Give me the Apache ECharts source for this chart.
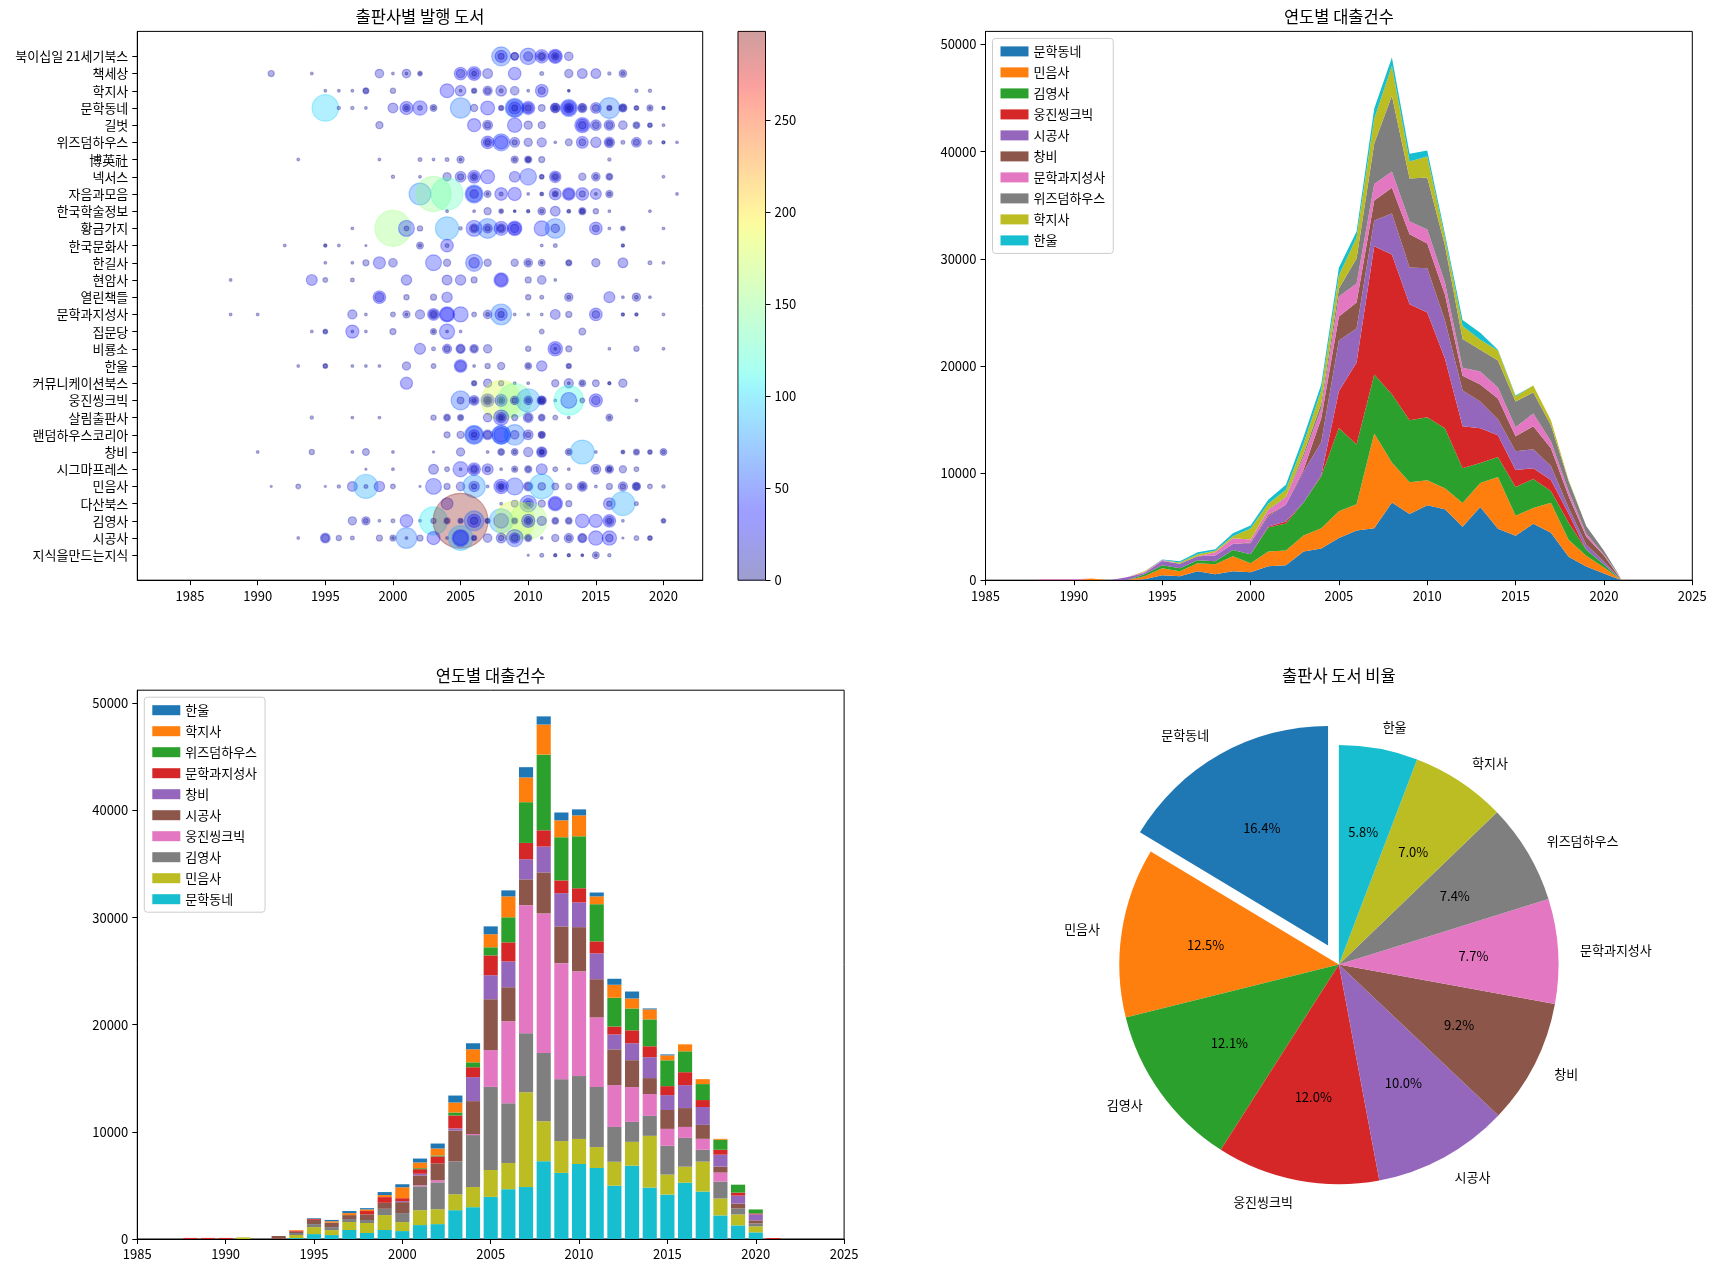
<!DOCTYPE html>
<html><head><meta charset="utf-8">
<script src="https://cdn.jsdelivr.net/npm/echarts@6/dist/echarts.min.js"></script>
<style>html,body{margin:0;padding:0;background:#fff}#c{width:1714px;height:1273px}</style>
</head><body><div id="c"></div>
<script>
// ---------- DATA ----------
const years = [1988,1989,1990,1991,1992,1993,1994,1995,1996,1997,1998,1999,2000,2001,2002,2003,2004,2005,2006,2007,2008,2009,2010,2011,2012,2013,2014,2015,2016,2017,2018,2019,2020,2021];
const axisYears = [1985,1986,1987,1988,1989,1990,1991,1992,1993,1994,1995,1996,1997,1998,1999,2000,2001,2002,2003,2004,2005,2006,2007,2008,2009,2010,2011,2012,2013,2014,2015,2016,2017,2018,2019,2020,2021,2022,2023,2024,2025];

const loan_문학동네 = [0,0,0,0,0,0,90,460,370,840,560,840,740,1300,1390,2690,2970,3930,4650,4850,7260,6170,7000,6630,4980,6840,4800,4150,5260,4430,2200,1270,620,0];
const loan_민음사 = [0,0,0,150,0,0,280,650,460,740,930,1390,840,1390,1390,1490,1880,2510,2440,8850,3730,2970,2340,1950,2230,2230,4830,1860,1490,2790,1580,1020,560,0];
const loan_김영사 = [0,0,0,0,0,0,190,280,280,280,280,590,840,2230,2510,3070,4850,7760,5580,5510,6360,5780,5870,5610,3250,1860,1860,2690,2690,1110,1580,560,280,0];
const loan_웅진씽크빅 = [0,0,0,0,0,0,0,0,0,0,0,0,0,90,190,0,100,3430,7660,11950,13040,10830,9770,6500,3900,3250,2040,1580,1020,1020,840,0,0,0];
const loan_시공사 = [0,0,0,0,0,280,120,400,430,370,530,560,1020,930,1580,2880,3070,4750,3170,2410,3830,3430,4130,3560,3340,2510,1490,1760,1760,1300,560,460,280,0];
const loan_창비 = [0,0,0,0,0,0,0,0,0,0,0,0,90,150,0,190,2240,2240,2410,1880,2410,3100,2310,2410,1390,1580,1950,1390,2140,1670,1110,740,560,0];
const loan_문학과지성사 = [100,100,100,0,0,0,90,90,0,0,310,530,280,430,650,1210,920,1850,1780,1520,1520,1190,1320,1120,740,1210,1020,840,1210,650,460,280,90,90];
const loan_위즈덤하우스 = [0,0,0,0,0,0,0,0,0,0,0,0,0,90,90,280,460,760,2340,3800,7060,4030,4850,3470,2690,2040,2510,2410,1950,1490,930,740,370,0];
const loan_학지사 = [0,0,0,0,0,0,60,0,120,190,150,190,1020,530,650,930,1220,1220,1950,2310,2810,1580,1950,730,1210,930,930,460,650,460,90,0,0,0];
const loan_한울 = [0,0,0,0,0,0,0,60,120,190,120,280,280,370,460,650,560,730,560,960,760,730,560,360,560,650,90,90,0,0,0,0,0,0];

const loanSeries = [
  ['문학동네', loan_문학동네], ['민음사', loan_민음사], ['김영사', loan_김영사], ['웅진씽크빅', loan_웅진씽크빅],
  ['시공사', loan_시공사], ['창비', loan_창비], ['문학과지성사', loan_문학과지성사], ['위즈덤하우스', loan_위즈덤하우스],
  ['학지사', loan_학지사], ['한울', loan_한울]
];

const pieNames = ['문학동네','민음사','김영사','웅진씽크빅','시공사','창비','문학과지성사','위즈덤하우스','학지사','한울'];
const piePercents = [16.4,12.5,12.1,12.0,10.0,9.2,7.7,7.4,7.0,5.8];

const publishers = ['북이십일 21세기북스','책세상','학지사','문학동네','길벗','위즈덤하우스','博英社','넥서스','자음과모음','한국학술정보','황금가지','한국문화사','한길사','현암사','열린책들','문학과지성사','집문당','비룡소','한울','커뮤니케이션북스','웅진씽크빅','살림출판사','랜덤하우스코리아','창비','시그마프레스','민음사','다산북스','김영사','시공사','지식을만드는지식'];

const xTicksScatter = [1985,1990,1995,2000,2005,2010,2015,2020];
const colorbarTicks = [0,50,100,150,200,250];
const loanTicks = [0,10000,20000,30000,40000,50000];

// bubbles: [publisher, [[year, value, value, ...], ...]]
const bubbleRows = [
 ['북이십일 21세기북스', [[2008,58,29,10],[2009,14,14],[2010,47,19],[2011,34,19,10],[2012,37,29,14,5],[2013,17]]],
 ['책세상', [[1991,10],[1994,3],[1999,17],[2000,3],[2001,17,3],[2002,7,3],[2005,31,17],[2006,35,22,7],[2007,21],[2009,31],[2011,5],[2013,16],[2014,21],[2015,21],[2016,4],[2017,14,5]]],
 ['학지사', [[1995,3],[1996,3],[1997,3],[1998,10,7],[2000,8],[2004,36],[2005,24,3],[2006,8,5],[2007,19,10],[2008,24,5],[2009,17],[2010,3],[2011,31,13],[2013,3,2],[2018,4],[2019,4]]],
 ['문학동네', [[1995,97],[1996,4],[1997,4],[1998,3],[2000,21],[2001,33,14,5],[2002,38,7],[2003,12,5],[2005,65],[2006,13],[2007,36],[2008,8,5],[2009,58,49,29,10],[2010,33,23,10],[2011,12],[2012,21,17,10,5],[2013,49,39,23,14,5],[2014,19,14,7],[2015,24,12],[2016,67,8,5],[2017,16,12,7],[2018,7,5],[2019,10,3],[2020,4,3]]],
 ['길벗', [[1999,13],[2006,33],[2007,21,10],[2009,38],[2010,16],[2011,13],[2014,41,29,14],[2015,24,12],[2016,23,12],[2017,17],[2018,12,7],[2019,7,5],[2020,3]]],
 ['위즈덤하우스', [[2007,31,17,8],[2008,49,34],[2009,21,8],[2010,16],[2011,19],[2012,3],[2013,12],[2014,28,12],[2015,23],[2016,23,14,7],[2017,5],[2018,21,10],[2019,5],[2020,4,3],[2021,3]]],
 ['博英社', [[1993,3],[1999,3],[2002,5],[2003,3],[2004,5],[2005,13,3],[2009,13,5],[2010,13,8,5],[2011,10],[2016,4]]],
 ['넥서스', [[2000,4],[2002,3],[2004,16],[2005,24,10],[2006,31,17,7],[2007,36],[2009,24],[2010,47],[2011,7,5],[2012,27,17,8],[2014,13],[2015,17,7],[2016,12,7],[2020,3]]],
 ['자음과모음', [[2002,72],[2003,150],[2004,130],[2006,54,44,17],[2007,12,3],[2008,31,5],[2009,33],[2010,3],[2011,5,3],[2012,28,10,5],[2013,31,23],[2014,31,10],[2015,25,3],[2016,13,5],[2021,3]]],
 ['한국학술정보', [[2004,3],[2006,3],[2007,13],[2008,7,3],[2009,3,2],[2010,4,3],[2011,14,5],[2012,21],[2013,5,3],[2014,13,8,5],[2015,8],[2016,3],[2019,3]]],
 ['황금가지', [[1997,3],[2000,155],[2001,44,7],[2002,8],[2004,79],[2005,4],[2006,44,19,10],[2007,62,19,8],[2008,36,19,10],[2009,38,31,17],[2011,41],[2012,62,17],[2015,31,12],[2016,3],[2017,7,3],[2020,3]]],
 ['한국문화사', [[1992,3],[1995,4,3],[1996,3],[1998,2],[2002,12,4],[2004,31,5],[2011,3],[2012,5],[2017,4,3]]],
 ['한길사', [[1995,3],[1997,3],[1998,10],[1999,29],[2000,17],[2003,44],[2004,13],[2006,49,23],[2007,13],[2009,13],[2010,17,7],[2011,12,3],[2013,10,7],[2015,16],[2017,21],[2019,5],[2020,3]]],
 ['현암사', [[1988,3],[1994,25],[1995,7],[1997,5],[2001,23],[2004,21],[2005,23],[2006,10],[2008,38,29],[2010,10],[2011,17],[2012,3]]],
 ['열린책들', [[1999,31,19],[2001,8],[2003,10],[2004,23],[2010,8],[2011,5],[2013,16,5],[2016,25],[2017,3],[2018,16,5],[2019,3]]],
 ['문학과지성사', [[1988,3],[1990,3],[1997,19],[1998,3],[2000,7],[2001,13,3],[2002,19],[2003,28,19,10],[2004,41,34],[2005,41],[2006,7],[2007,17,5],[2008,67,29,10],[2009,3],[2010,3],[2011,3],[2012,21],[2013,10],[2015,31,14],[2017,4,3],[2018,4,3],[2020,3]]],
 ['집문당', [[1994,3],[1995,7,5],[1997,33,3],[1998,3],[2000,10],[2003,10,3],[2004,41,3],[2005,3],[2011,7],[2014,12]]],
 ['비룡소', [[2002,25],[2003,5],[2004,19,10],[2005,19,14],[2006,17,10],[2007,16],[2010,8],[2012,38,23,3],[2013,10],[2016,3],[2018,8],[2020,3]]],
 ['한울', [[1993,3],[1995,7,5],[1997,3],[1998,3],[1999,3],[2001,16],[2003,7],[2005,31,23],[2006,3],[2007,8],[2008,13],[2010,12,5],[2011,23],[2013,8,5]]],
 ['커뮤니케이션북스', [[2001,29],[2006,8,5],[2007,16],[2008,8],[2009,3],[2010,3],[2012,13],[2013,19,3],[2014,12,5],[2015,12],[2016,4,3],[2017,16]]],
 ['웅진씽크빅', [[2005,58,12],[2006,21,12,5],[2007,33,19,12,5],[2008,180,29,14,5],[2009,140,17,8],[2010,80,17,7],[2011,19,14,10,5],[2012,3],[2013,115,44],[2014,7],[2015,33,17],[2018,3]]],
 ['살림출판사', [[1994,4],[1997,3],[1999,3],[2003,8],[2004,12,7],[2005,10,5],[2007,17],[2008,41,23,12,5],[2009,10],[2010,21,12],[2011,12,7],[2012,7],[2013,3],[2016,12,4]]],
 ['랜덤하우스코리아', [[2004,10],[2005,13],[2006,58,49,23,8],[2007,21,14],[2008,58,54,39],[2009,65,17],[2010,21,8],[2011,13,10,5]]],
 ['창비', [[1990,3],[1994,8],[1997,3],[1998,12],[2000,3],[2003,2],[2005,16],[2007,3],[2008,12,7],[2009,12,5],[2010,19],[2011,23,17,8,5],[2013,12,5],[2014,83],[2015,3],[2017,5,3],[2018,10,5],[2019,7,4],[2020,12,5]]],
 ['시그마프레스', [[1998,2],[2000,3],[2003,21],[2004,7],[2005,41,3],[2006,31,19,10],[2007,25,8],[2008,3],[2009,10,3],[2010,13,7],[2011,25],[2012,7],[2013,3],[2015,21,8],[2016,16,8,5],[2017,13],[2018,7]]],
 ['민음사', [[1991,2],[1993,7],[1995,2],[1996,4],[1997,21],[1998,83,5],[1999,23],[2000,7],[2002,2],[2003,44],[2004,10],[2005,17],[2006,75,23,8],[2007,3],[2008,38,23,10,5],[2009,49],[2010,19,12],[2011,87,14],[2012,12],[2013,10],[2014,21,12,5],[2015,3],[2016,10],[2017,19,8],[2018,16,12,7],[2019,7],[2020,4]]],
 ['다산북스', [[2004,28],[2008,3],[2009,12],[2010,47,23,8],[2011,13],[2012,38,29],[2013,10],[2016,28,8],[2017,83],[2018,5]]],
 ['김영사', [[1997,16],[1998,16,7],[1999,3],[2000,5],[2001,31],[2002,3],[2003,105,8],[2004,10,5],[2005,298,8,4],[2006,62,33,14],[2007,8,5],[2008,83,39],[2009,180,10,5],[2010,160,33,17,7],[2011,19],[2012,12,7],[2013,12,7],[2014,35],[2015,33],[2016,31,19,8],[2017,3],[2020,7,4]]],
 ['시공사', [[1993,3],[1995,21,14],[1996,8],[1997,5],[1999,10],[2000,10,3],[2001,67,3],[2002,10],[2003,33],[2004,3],[2005,87,49,39],[2006,8,5],[2007,17],[2008,21,8],[2009,49,23,12],[2010,13,7],[2011,3],[2012,13],[2013,19,8],[2014,19,14],[2015,38],[2016,38,14],[2017,2],[2018,7],[2019,7,5]]],
 ['지식을만드는지식', [[2010,2],[2011,5],[2012,4,3],[2013,4,3],[2014,3,2],[2015,12,3],[2016,4]]]
];

// ---------- STYLE ----------
const FONT = "'Noto Sans CJK KR', 'Noto Sans', sans-serif";
const tab10 = ['#1f77b4','#ff7f0e','#2ca02c','#d62728','#9467bd','#8c564b','#e377c2','#7f7f7f','#bcbd22','#17becf'];
const areaColors = tab10;                       // 문학동네 ... 한울
const barColors = tab10.slice().reverse();      // 문학동네 = cyan ... 한울 = blue

function interp(t, xs, ys){ for(let i=1;i<xs.length;i++){ if(t<=xs[i]){ const f=(t-xs[i-1])/(xs[i]-xs[i-1]); return ys[i-1]+f*(ys[i]-ys[i-1]); } } return ys[ys.length-1]; }
function jet(t){ t=Math.max(0,Math.min(1,t));
  const r=interp(t,[0,0.35,0.66,0.89,1],[0,0,1,1,0.5]);
  const g=interp(t,[0,0.125,0.375,0.64,0.91,1],[0,0,1,1,0,0]);
  const b=interp(t,[0,0.11,0.34,0.65,1],[0.5,1,1,0,0]);
  return [r,g,b].map(x=>Math.round(x*255)); }

// ---------- BUILD ----------
const nPub = publishers.length;
const bubblePoints = [];
bubbleRows.forEach(([name, cells]) => {
  const yi = nPub - 1 - publishers.indexOf(name);
  cells.forEach(([yr, ...vals]) => vals.forEach(v => bubblePoints.push([yr, yi, v])));
});
const vmax = Math.max(...bubblePoints.map(p => p[2]));
const scatterData = bubblePoints.map(p => {
  const c = jet(p[2] / vmax); const col = 'rgb(' + c.join(',') + ')';
  return { value: p, itemStyle: { color: col, borderColor: col } };
});
const cbStops = [];
for (let i = 0; i <= 40; i++) { const c = jet(i/40); cbStops.push({ offset: i/40, color: 'rgba(' + c.join(',') + ',0.38)' }); }

// layout (px)
const G = {
  sc: { left: 137.3, top: 31.4, width: 565.4, height: 548.8 },
  cb: { left: 738, top: 31.4, width: 27.5, height: 548.8 },
  ar: { left: 985.5, top: 31.4, width: 706.8, height: 548.8 },
  br: { left: 137.3, top: 690.2, width: 706.8, height: 548.8 }
};
const pieC = [1338.9, 964.6], pieR = 219.6;

const lbl = (extra) => Object.assign({ color: '#000', fontSize: 13, margin: 9, fontFamily: FONT, formatter: v => String(v) }, extra || {});
const tck = (extra) => Object.assign({ show: true, inside: false, length: 5, lineStyle: { color: '#000', width: 1 } }, extra || {});
const axLine = { show: true, onZero: false, lineStyle: { color: '#000', width: 1 } };
function gridOf(g){ return Object.assign({ show: true, borderColor: '#000', borderWidth: 1, backgroundColor: 'transparent', containLabel: false }, g); }

const yearCats = axisYears.map(String);
const xAxes = [
  { type: 'value', gridIndex: 0, min: 1981.1, max: 2022.9, axisLine: axLine, splitLine: { show: false },
    axisLabel: lbl({ customValues: xTicksScatter }), axisTick: tck({ customValues: xTicksScatter }) },
  { type: 'category', gridIndex: 1, data: ['cb'], show: false },
  { type: 'category', gridIndex: 2, data: yearCats, boundaryGap: false, axisLine: axLine, splitLine: { show: false },
    axisLabel: lbl({ interval: 4 }), axisTick: tck({ interval: 4, alignWithLabel: true }) },
  { type: 'category', gridIndex: 3, data: yearCats, boundaryGap: false, axisLine: axLine, splitLine: { show: false },
    axisLabel: lbl({ interval: 4 }), axisTick: tck({ interval: 4, alignWithLabel: true }) }
];
const yIdxs = publishers.map((_, i) => i);
const yAxes = [
  { type: 'value', gridIndex: 0, min: -1.45, max: nPub - 1 + 1.45, axisLine: axLine, splitLine: { show: false },
    axisLabel: lbl({ customValues: yIdxs, formatter: v => publishers[nPub - 1 - Math.round(v)] }),
    axisTick: tck({ customValues: yIdxs }) },
  { type: 'value', gridIndex: 1, min: 0, max: vmax, position: 'right', axisLine: { show: false }, splitLine: { show: false },
    axisLabel: lbl({ customValues: colorbarTicks }), axisTick: tck({ customValues: colorbarTicks }) },
  { type: 'value', gridIndex: 2, min: 0, max: 51225, axisLine: axLine, splitLine: { show: false },
    axisLabel: lbl({ customValues: loanTicks }), axisTick: tck({ customValues: loanTicks }) },
  { type: 'value', gridIndex: 3, min: 0, max: 51225, axisLine: axLine, splitLine: { show: false },
    axisLabel: lbl({ customValues: loanTicks }), axisTick: tck({ customValues: loanTicks }) }
];

const series = [];
series.push({ type: 'scatter', xAxisIndex: 0, yAxisIndex: 0, data: scatterData, clip: false,
  progressive: 0, silent: true,
  symbolSize: v => 1.355 * Math.pow(v[2], 0.65),
  itemStyle: { opacity: 0.3, borderWidth: 1.2 } });
series.push({ type: 'bar', xAxisIndex: 1, yAxisIndex: 1, data: [vmax], barWidth: '100%', silent: true,
  itemStyle: { color: { type: 'linear', x: 0, y: 1, x2: 0, y2: 0, colorStops: cbStops } } });

loanSeries.forEach(([name, vals], i) => {
  series.push({ type: 'line', name, xAxisIndex: 2, yAxisIndex: 2, stack: 'area', symbol: 'none', showSymbol: false,
    data: years.map((y, k) => [String(y), vals[k]]), color: areaColors[i],
    lineStyle: { width: 0 }, areaStyle: { color: areaColors[i], opacity: 1 }, silent: true });
});
loanSeries.forEach(([name, vals], i) => {
  series.push({ type: 'bar', name, xAxisIndex: 3, yAxisIndex: 3, stack: 'bar', barWidth: '80%',
    data: years.map((y, k) => [String(y), vals[k]]), color: barColors[i],
    itemStyle: { color: barColors[i] }, silent: true });
});

const pieCommon = { type: 'pie', center: pieC, startAngle: 90, clockwise: false, avoidLabelOverlap: false,
  selectedMode: 'single', selectedOffset: pieR * 0.1, silent: true, emphasis: { disabled: true }, animation: false };
series.push(Object.assign({}, pieCommon, { radius: pieR,
  data: pieNames.map((n, i) => ({ name: n, value: piePercents[i], selected: i === 0, itemStyle: { color: tab10[i], borderWidth: 0 } })),
  label: { show: true, position: 'outside', formatter: '{b}', color: '#000', fontSize: 13, fontFamily: FONT, distanceToLabelLine: 0 },
  labelLine: { show: false, length: pieR * 0.1, length2: 0 } }));
series.push(Object.assign({}, pieCommon, { radius: [pieR * 0.2, pieR],
  data: pieNames.map((n, i) => ({ name: n + ' ', value: piePercents[i], selected: i === 0, itemStyle: { color: 'rgba(0,0,0,0)', borderWidth: 0 } })),
  label: { show: true, position: 'inside', formatter: p => p.value.toFixed(1) + '%', color: '#000', fontSize: 13, fontFamily: FONT },
  labelLine: { show: false } }));

const legendBase = { orient: 'vertical', icon: 'rect', itemWidth: 28, itemHeight: 10, itemGap: 7, selectedMode: false,
  padding: [6, 8, 6, 8], backgroundColor: 'rgba(255,255,255,0.8)', borderColor: '#cccccc', borderWidth: 1, borderRadius: 3,
  textStyle: { fontSize: 13, color: '#000', fontFamily: FONT, lineHeight: 14 } };

const names = loanSeries.map(s => s[0]);
const titleStyle = { fontSize: 16.5, fontWeight: 'normal', color: '#000', fontFamily: FONT };
const option = {
  animation: false,
  textStyle: { fontFamily: FONT },
  title: [
    { text: '출판사별 발행 도서', left: G.sc.left + G.sc.width/2, top: 8.5, textAlign: 'center', padding: 0, textStyle: titleStyle },
    { text: '연도별 대출건수', left: G.ar.left + G.ar.width/2, top: 8.5, textAlign: 'center', padding: 0, textStyle: titleStyle },
    { text: '연도별 대출건수', left: G.br.left + G.br.width/2, top: 667.5, textAlign: 'center', padding: 0, textStyle: titleStyle },
    { text: '출판사 도서 비율', left: pieC[0], top: 667.5, textAlign: 'center', padding: 0, textStyle: titleStyle }
  ],
  grid: [gridOf(G.sc), gridOf(G.cb), gridOf(G.ar), gridOf(G.br)],
  xAxis: xAxes,
  yAxis: yAxes,
  legend: [
    Object.assign({}, legendBase, { left: G.ar.left + 7, top: G.ar.top + 7,
      data: names.map((n, i) => ({ name: n, itemStyle: { color: areaColors[i] } })) }),
    Object.assign({}, legendBase, { left: G.br.left + 7, top: G.br.top + 7,
      data: names.map((n, i) => ({ name: n, itemStyle: { color: barColors[i] } })).reverse() })
  ],
  series
};
const chart = echarts.init(document.getElementById('c'), null, { renderer: 'canvas' });
chart.setOption(option);
</script>
</body></html>
